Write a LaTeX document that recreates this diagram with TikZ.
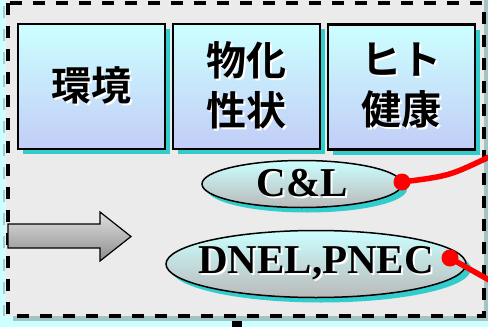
\documentclass[tikz,border=0pt]{standalone}
\usepackage{fontspec}
\setmainfont{Liberation Serif}
\newfontfamily\jpfont{Noto Sans CJK JP}[BoldFont={Noto Sans CJK JP Bold}]
\usetikzlibrary{positioning,shapes.geometric,shadows}

\definecolor{bgcyan}{HTML}{CCFFFF}
\definecolor{panelgray}{HTML}{EBEBEB}
\definecolor{panelshadow}{HTML}{A3C4C4}
\definecolor{paleteal}{HTML}{A8CCCC}
\definecolor{boxtop}{HTML}{CCFFFF}
\definecolor{boxbot}{HTML}{C2CDF7}
\definecolor{shteal}{HTML}{33CCCC}
\definecolor{ellbot}{HTML}{B9B9B9}

\newcommand\shtxt[1]{\leavevmode\rlap{\hspace{2pt}\raisebox{-2pt}{\color{white}#1}}#1}

\begin{document}
\begin{tikzpicture}[x=1pt, y=-1pt,
  topicbox/.style={draw=black, line width=2.6pt, top color=boxtop, bottom color=boxbot,
    minimum width=147pt, minimum height=125pt, inner sep=0pt, align=center,
    drop shadow={shadow xshift=5pt, shadow yshift=-5pt, fill=shteal, opacity=1},
    font=\jpfont\bfseries\fontsize{40}{50}\selectfont},
  ellbox/.style={ellipse, draw=black, line width=1.5pt, top color=boxtop, bottom color=ellbot,
    inner sep=0pt,
    drop shadow={shadow xshift=5pt, shadow yshift=-5pt, fill=shteal, opacity=1}},
  elltext/.style={inner sep=0pt, font=\bfseries\fontsize{41}{48}\selectfont},
  reddot/.style={circle, fill=red, minimum size=17pt, inner sep=0pt},
  redline/.style={red, line width=5.5pt}]
\useasboundingbox (0,0) rectangle (488,327);
\fill[bgcyan] (0,0) rectangle (488,327);

% panel with shadow
\fill[panelshadow] (13,0) rectangle (488,321);
\fill[panelgray] (6,0) rectangle (484,316);
\draw[paleteal, line width=2.5pt, dash pattern=on 12pt off 11pt] (4,6) -- (4,316);
\draw[black, line width=3.5pt, dash pattern=on 12pt off 11pt] (8,3) rectangle (484,316);

% the three boxes
\node[topicbox] (env) at (91.5,86.5) {\shtxt{環境}};
\node[topicbox] (phys) at (246.5,86.5) {\shtxt{物化}\\\shtxt{性状}};
\node[topicbox] (human) at (401.5,87) {\shtxt{ヒト}\\\shtxt{健康}};

% block arrow
\draw[black, line width=1.2pt, top color=white!88!black, bottom color=black!45]
  (8,224) -- (100,224) -- (100,212) -- (131,236.5) -- (100,261) -- (100,248) -- (8,248) -- cycle;

% ellipses
\node[ellbox, minimum width=200pt, minimum height=47pt] (cl) at (302,184) {};
\node[elltext] (cltxt) at (cl) {\shtxt{C\&L}};
\node[ellbox, minimum width=300pt, minimum height=67pt] (dnel) at (316,264) {};
\node[elltext] (dneltxt) at (dnel) {\shtxt{DNEL,PNEC}};

% red connectors
\node[reddot] (cldot) at (402,182) {};
\node[reddot] (dneldot) at (450,258) {};
\coordinate (clend) at (489,157);
\coordinate (dnelend) at (489,280);
\draw[redline] (cldot.center) .. controls (449,176) .. (clend);
\draw[redline] (dneldot.center) -- (dnelend);

% link leaving below
\coordinate (downtop) at (237,321);
\coordinate (downend) at (237,328);
\draw[black, line width=10pt] (downtop) -- (downend);
\end{tikzpicture}
\end{document}
